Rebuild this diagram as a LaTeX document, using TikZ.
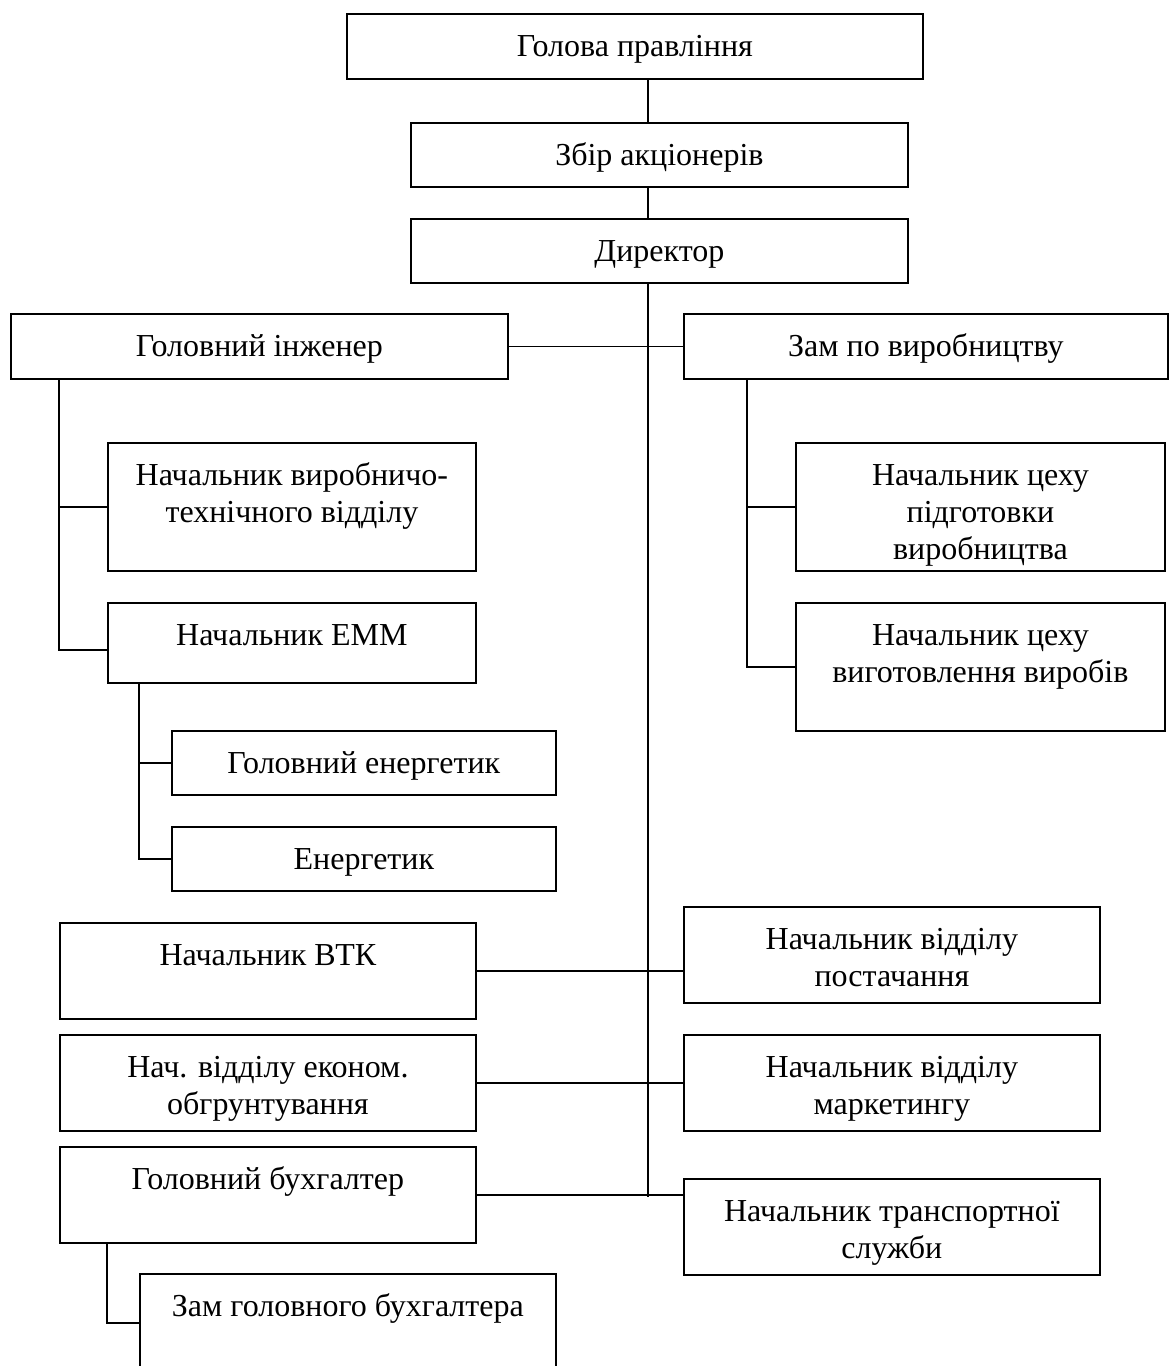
\documentclass[tikz,border=0pt]{standalone}
\usepackage{fontspec}
\setmainfont{Liberation Serif}
\usetikzlibrary{calc}

\begin{document}
\begin{tikzpicture}[x=0.5pt, y=-0.5pt,
  font=\fontsize{16}{18.5}\selectfont,
  unit/.style={rectangle, draw, line width=0.9pt, anchor=north west, inner sep=0pt},
  sz/.style 2 args={minimum width=#1*0.5pt, minimum height=#2*0.5pt},
  boxtext/.style={anchor=north, align=center, inner sep=0pt, yshift=-8.8pt},
  link/.style={line width=0.75pt},
  trunk/.style={line width=0.55pt}]
\fill[white] (0,0) rectangle (1168,1366);
\useasboundingbox (0,0) rectangle (1168,1366);

\node[unit, sz={576}{65}, label={[boxtext]north:\strut Голова правління}] (gp) at (346,13) {};
\node[unit, sz={497}{64}, label={[boxtext]north:\strut Збір акціонерів}] (zbir) at (410,122) {};
\node[unit, sz={497}{64}, label={[boxtext]north:\strut Директор}] (dir) at (410,218) {};

\node[unit, sz={497}{65}, label={[boxtext]north:\strut Головний інженер}] (gi) at (10,313) {};
\node[unit, sz={484}{65}, label={[boxtext]north:\strut Зам по виробництву}] (zam) at (683,313) {};

\node[unit, sz={368}{128}, label={[boxtext]north:\strut Начальник виробничо-\\технічного відділу}] (vt) at (107,442) {};
\node[unit, sz={368}{80}, label={[boxtext]north:\strut Начальник ЕММ}] (emm) at (107,602) {};
\node[unit, sz={384}{64}, label={[boxtext]north:\strut Головний енергетик}] (ge) at (171,730) {};
\node[unit, sz={384}{64}, label={[boxtext]north:\strut Енергетик}] (en) at (171,826) {};

\node[unit, sz={369}{128}, label={[boxtext]north:\strut Начальник цеху\\підготовки\\виробництва}] (pid) at (795,442) {};
\node[unit, sz={369}{128}, label={[boxtext]north:\strut Начальник цеху\\виготовлення виробів}] (vyg) at (795,602) {};

\node[unit, sz={416}{96}, label={[boxtext]north:\strut Начальник ВТК}] (vtk) at (59,922) {};
\node[unit, sz={416}{96}, label={[boxtext]north:\strut Начальник відділу\\постачання}] (post) at (683,906) {};
\node[unit, sz={416}{96}, label={[boxtext]north:\strut Нач. відділу економ.\\обгрунтування}] (ek) at (59,1034) {};
\node[unit, sz={416}{96}, label={[boxtext]north:\strut Начальник відділу\\маркетингу}] (mark) at (683,1034) {};
\node[unit, sz={416}{96}, label={[boxtext]north:\strut Головний бухгалтер}] (buh) at (59,1146) {};
\node[unit, sz={416}{96}, label={[boxtext]north:\strut Начальник транспортної\\служби}] (trans) at (683,1178) {};
\node[unit, sz={416}{98}, label={[boxtext]north:\strut Зам головного бухгалтера}] (zgb) at (139,1273) {};

\coordinate (tkend) at (648,1197);
\draw[trunk] (gp.south -| tkend) -- (zbir.north -| tkend);
\draw[trunk] (zbir.south -| tkend) -- (dir.north -| tkend);
\draw[trunk] (dir.south -| tkend) -- (tkend);

\draw[link] (gi.east) -- (zam.west);
\draw[link] (vtk.east) -- (vtk.east -| post.west);
\draw[link] (ek.east) -- (mark.west);
\draw[link] (buh.east) -- (buh.east -| trans.west);

\draw[link] ($(gi.south west)+(49,0)$) |- (vt.west);
\draw[link] ($(gi.south west)+(49,0)$) |- ($(emm.west)+(0,7)$);
\draw[link] ($(zam.south west)+(64,0)$) |- (pid.west);
\draw[link] ($(zam.south west)+(64,0)$) |- (vyg.west);
\draw[link] ($(emm.south west)+(32,0)$) |- (ge.west);
\draw[link] ($(emm.south west)+(32,0)$) |- (en.west);
\draw[link] ($(buh.south west)+(48,0)$) |- (zgb.west);
\end{tikzpicture}
\end{document}
